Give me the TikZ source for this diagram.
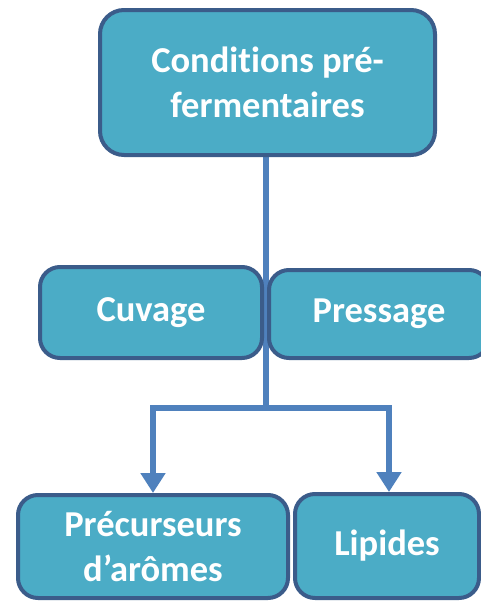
\documentclass[tikz,border=0pt]{standalone}
\usepackage{fontspec}
\setmainfont{Carlito}[Ligatures=NoCommon]
\usetikzlibrary{arrows.meta}
\definecolor{boxfill}{RGB}{75,172,198}
\definecolor{boxline}{RGB}{59,92,138}
\definecolor{linkcol}{RGB}{79,129,189}
\tikzset{
  card/.style={draw=boxline, line width=4pt, fill=boxfill, rounded corners=20pt,
    text=white, align=center, inner sep=0pt,
    font=\fontsize{36.5}{45}\selectfont\bfseries},
  link/.style={draw=linkcol, line width=6pt},
  linkarrow/.style={link, -{Triangle[width=24pt,length=20pt]}, shorten >=-1pt}
}
\begin{document}
\begin{tikzpicture}[x=1pt,y=-1pt]
\useasboundingbox (0,0) rectangle (481,603);
\clip (0,0) rectangle (481,603);
% junction of the branches and the feed line
\coordinate (j) at (266,408);
\coordinate (topfoot) at (266,150);
% connectors, drawn first so the boxes sit over them
\draw[link] (topfoot) -- (j);
\draw[linkarrow] (j) -| (153,492);
\draw[linkarrow] (j) -| (389,491);
% boxes
\node[card, rounded corners=24pt, minimum width=335pt, minimum height=145pt] (top) at (267.5,82.5)
  {Conditions pré-\\fermentaires};
\node[card, minimum width=222pt, minimum height=91pt] (cuv) at (151,312.5) {Cuvage};
\node[card, minimum width=220pt, minimum height=88pt] (pres) at (379,314) {Pressage};
\node[card, minimum width=270pt, minimum height=103pt] (prec) at (153,546.5) {Précurseurs\\d’arômes};
\node[card, minimum width=184pt, minimum height=104pt] (lip) at (387,546) {Lipides};
\end{tikzpicture}
\end{document}
